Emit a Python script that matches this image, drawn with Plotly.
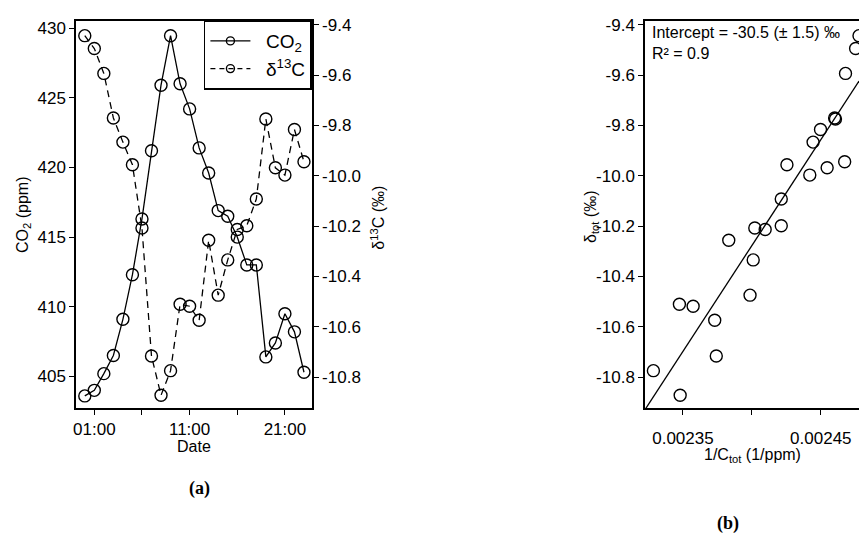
import numpy as np
import plotly.graph_objects as go

# ---------------- data ----------------
hours = ["00:00", "01:00", "02:00", "03:00", "04:00", "05:00", "06:00", "07:00",
         "08:00", "09:00", "10:00", "11:00", "12:00", "13:00", "14:00", "15:00",
         "16:00", "17:00", "18:00", "19:00", "20:00", "21:00", "22:00", "23:00"]
co2 = [403.6, 404.0, 405.2, 406.5, 409.1, 412.3, 416.3, 421.2, 425.9, 429.45,
       426.0, 424.2, 421.4, 419.6, 416.9, 416.5, 415.0, 413.0, 413.0, 406.4,
       407.4, 409.5, 408.2, 405.3]
d13c = [-9.443, -9.494, -9.593, -9.770, -9.866, -9.956, -10.207, -10.716,
        -10.872, -10.774, -10.510, -10.518, -10.574, -10.256, -10.474, -10.334,
        -10.213, -10.198, -10.092, -9.774, -9.968, -9.997, -9.816, -9.944]

day = "2020-01-01 "
time_ticks = ["01:00", "11:00", "21:00"]
time_minor_ticks = ["06:00", "16:00"]
co2_ticks = [405, 410, 415, 420, 425, 430]
d13c_ticks = [-9.4, -9.6, -9.8, -10.0, -10.2, -10.4, -10.6, -10.8]
d13c_ticktext = ["-9.4", "-9.6", "-9.8", "-10.0", "-10.2", "-10.4", "-10.6", "-10.8"]
inv_ticks = [0.00235, 0.00245]
inv_ticktext = ["0.00235", "0.00245"]
inv_minor_ticks = [0.00240]

annot_text = "Intercept = -30.5 (± 1.5) ‰<br>R² = 0.9"

# ---------------- derived ----------------
dates = [day + h for h in hours]
inv_c = [1.0 / c for c in co2]
slope, intercept = np.polyfit(inv_c, d13c, 1)

W, H = 859, 536
def px(x):
    return x / W
def py(y):
    return 1 - y / H

FONT = "Arial, Liberation Sans, sans-serif"
SERIF = "Liberation Serif, DejaVu Serif, serif"
x2_range = [0.0023225, 0.0024777]
fit_x = x2_range
fit_y = [intercept + slope * v for v in fit_x]

mk = dict(symbol="circle-open", size=12, color="black", line=dict(width=1.4, color="black"))
mk_leg = dict(symbol="circle-open", size=8, color="black", line=dict(width=1.4, color="black"))
NB = "\u00a0\u00a0"

fig = go.Figure()
fig.add_trace(go.Scatter(x=dates, y=co2, mode="lines+markers", showlegend=False,
                         line=dict(color="black", width=1.3), marker=mk,
                         xaxis="x", yaxis="y"))
fig.add_trace(go.Scatter(x=dates, y=d13c, mode="lines+markers", showlegend=False,
                         line=dict(color="black", width=1.3, dash="7px,5px"), marker=mk,
                         xaxis="x", yaxis="y2"))
# legend entries (smaller legend symbols, as in the reference)
fig.add_trace(go.Scatter(x=[None], y=[None], mode="lines+markers", name=NB + "CO<sub>2</sub>",
                         line=dict(color="black", width=1.3), marker=mk_leg,
                         xaxis="x", yaxis="y"))
fig.add_trace(go.Scatter(x=[None], y=[None], mode="lines+markers", name=NB + "δ<sup>13</sup>C",
                         line=dict(color="black", width=1.3, dash="5px,4px"), marker=mk_leg,
                         xaxis="x", yaxis="y2"))
fig.add_trace(go.Scatter(x=inv_c, y=d13c, mode="markers", showlegend=False, marker=mk,
                         xaxis="x2", yaxis="y3"))
fig.add_trace(go.Scatter(x=fit_x, y=fit_y, mode="lines", showlegend=False,
                         line=dict(color="black", width=1.3),
                         xaxis="x2", yaxis="y3"))

ax = dict(showline=True, linecolor="black", linewidth=1.6, ticks="outside",
          ticklen=5, tickwidth=1.3, tickcolor="black", showgrid=False, zeroline=False,
          tickfont=dict(size=17, color="black", family=FONT))
minor_common = dict(ticks="outside", ticklen=5, tickwidth=1.3, tickcolor="black",
                    showgrid=False)

ydom = [py(406.7), py(15.7)]
fig.update_layout(
    width=W, height=H, margin=dict(l=0, r=0, t=0, b=0),
    paper_bgcolor="white", plot_bgcolor="white",
    font=dict(family=FONT, color="black", size=16),
    xaxis=dict(**ax, domain=[px(73.3), px(310)], anchor="y", type="date",
               range=["2019-12-31 23:05", day + "23:50"],
               tickvals=[day + t for t in time_ticks], ticktext=time_ticks,
               minor=dict(**minor_common, tickvals=[day + t for t in time_minor_ticks]),
               mirror=True, ticklabelstandoff=0),
    yaxis=dict(**ax, domain=ydom, anchor="x", range=[402.74, 430.54],
               tickvals=co2_ticks),
    yaxis2=dict(**ax, overlaying="y", side="right", anchor="x",
                range=[-10.922, -9.383], tickvals=d13c_ticks, ticktext=d13c_ticktext),
    xaxis2=dict(**ax, domain=[px(644.3), 1.0], anchor="y3", range=x2_range,
                tickvals=inv_ticks, ticktext=inv_ticktext,
                minor=dict(**minor_common, tickvals=inv_minor_ticks),
                mirror=True, ticklabelstandoff=9),
    yaxis3=dict(**ax, domain=ydom, anchor="x2", range=[-10.922, -9.383],
                tickvals=d13c_ticks, ticktext=d13c_ticktext),
    legend=dict(x=px(310), xanchor="right", y=py(15.7), yanchor="top",
                bordercolor="black", borderwidth=1.5, bgcolor="white",
                itemwidth=40,
                font=dict(size=19, family=FONT, color="black")),
    showlegend=True,
)

annots = [
    dict(text="CO<sub>2</sub> (ppm)", x=px(20), y=py(212), textangle=-90, font=dict(size=16)),
    dict(text="δ<sup>13</sup>C (‰)", x=px(376), y=py(215), textangle=-90, font=dict(size=16)),
    dict(text="Date", x=px(192), y=py(446), font=dict(size=16)),
    dict(text="δ<sub>tot</sub> (‰)", x=px(590), y=py(214), textangle=-90, font=dict(size=16)),
    dict(text="1/C<sub>tot</sub> (1/ppm)", x=px(752), y=py(455), font=dict(size=16)),
    dict(text="<b>(a)</b>", x=px(197), y=py(488), font=dict(size=18, family=SERIF)),
    dict(text="<b>(b)</b>", x=px(728), y=py(523), font=dict(size=18, family=SERIF)),
]
for a in annots:
    fig.add_annotation(xref="paper", yref="paper", showarrow=False,
                       xanchor="center", yanchor="middle", **a)

fig.add_annotation(xref="paper", yref="paper", showarrow=False, text=annot_text,
                   x=px(649), y=py(17), xanchor="left", yanchor="top", align="left",
                   font=dict(size=16))

fig.write_html("out.html", config={"displayModeBar": False},
               post_script="document.body.style.margin='0px';")
